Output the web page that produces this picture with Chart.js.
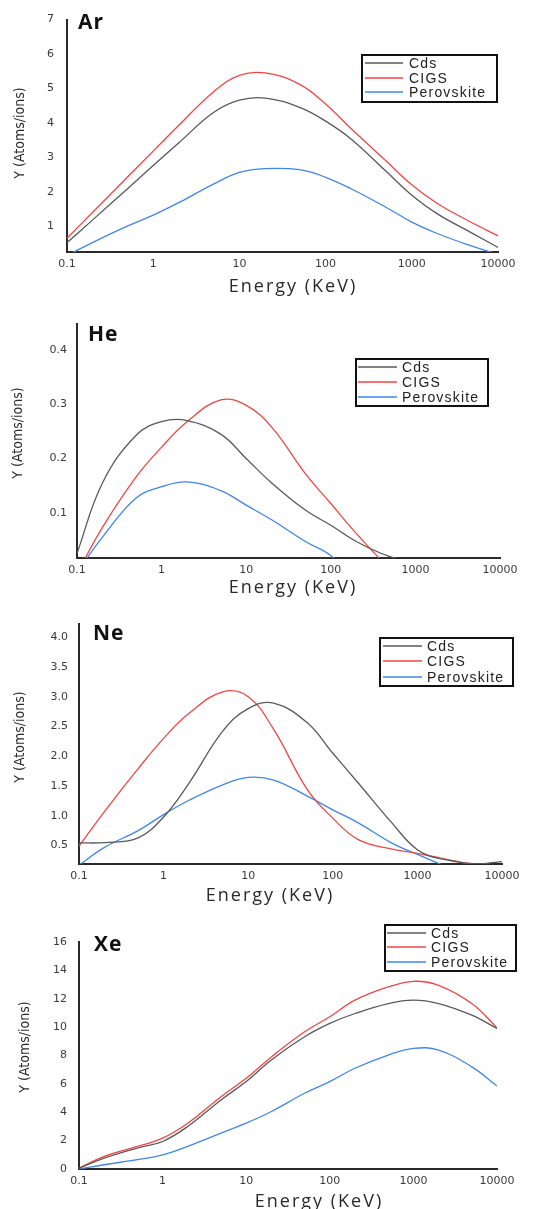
<!DOCTYPE html>
<html><head><meta charset="utf-8">
<script src="https://cdn.jsdelivr.net/npm/chart.js@4.4.0/dist/chart.umd.min.js"></script>
<style>
html,body{margin:0;padding:0;background:#fff;width:534px;height:1209px;overflow:hidden}
canvas{position:absolute;left:0;top:0}
</style>
</head><body>
<canvas id="c0" width="534" height="1209"></canvas>
<canvas id="c1" width="534" height="1209"></canvas>
<canvas id="c2" width="534" height="1209"></canvas>
<canvas id="c3" width="534" height="1209"></canvas>
<script>
// ---------- data ----------
const energies = [0.1,0.2,0.5,1,2,5,10,20,50,100,200,500,1000,2000,5000,10000];
const seriesNames = ['Cds','CIGS','Perovskite'];
const xTickValues = [0.1,1,10,100,1000,10000];
const xTickLabels = ['0.1','1','10','100','1000','10000'];
const xTitle = 'Energy (KeV)';
const yTitle = 'Y (Atoms/ions)';
const panelNames = ['Ar','He','Ne','Xe'];

const arCds   = [0.52,1.19,2.08,2.76,3.43,4.3,4.66,4.72,4.45,4.05,3.52,2.6,1.9,1.35,0.8,0.38];
const arCigs  = [0.65,1.41,2.42,3.18,3.94,4.9,5.38,5.45,5.12,4.55,3.82,2.9,2.2,1.65,1.1,0.72];
const arPerov = [0.15,0.53,1.0,1.32,1.69,2.22,2.56,2.67,2.64,2.42,2.08,1.55,1.12,0.78,0.42,0.18];
const arYTicks = [1,2,3,4,5,6,7];
const arYLabels = ['1','2','3','4','5','6','7'];

const heCds   = [0.025,0.155,0.243,0.268,0.27,0.245,0.2,0.155,0.105,0.077,0.047,0.019,0.01,null,null,null];
const heCigs  = [-0.012,0.073,0.166,0.221,0.268,0.308,0.298,0.258,0.172,0.117,0.062,-0.005,null,null,null,null];
const hePerov = [-0.01,0.055,0.127,0.148,0.157,0.141,0.114,0.087,0.047,0.021,-0.03,null,null,null,null,null];
const heYTicks = [0.1,0.2,0.3,0.4];
const heYLabels = ['0.1','0.2','0.3','0.4'];

const neCds   = [0.545,0.55,0.63,0.98,1.55,2.42,2.8,2.89,2.56,2.05,1.55,0.88,0.43,0.27,0.19,0.23];
const neCigs  = [0.49,1.07,1.79,2.3,2.72,3.08,3.0,2.45,1.44,0.96,0.6,0.44,0.37,0.28,0.17,null];
const nePerov = [0.17,0.47,0.75,1.02,1.26,1.52,1.645,1.6,1.33,1.1,0.88,0.54,0.35,0.17,null,null];
const neYTicks = [0.5,1,1.5,2,2.5,3,3.5,4];
const neYLabels = ['0.5','1.0','1.5','2.0','2.5','3.0','3.5','4.0'];

const xeCds   = [0.05,0.77,1.48,1.94,3.0,4.87,6.16,7.68,9.32,10.26,10.96,11.66,11.9,11.66,10.84,9.9];
const xeCigs  = [0.05,0.89,1.59,2.18,3.23,5.1,6.39,7.9,9.67,10.73,11.9,12.83,13.23,12.95,11.66,9.95];
const xePerov = [0.0,0.3,0.66,1.0,1.6,2.53,3.23,4.05,5.34,6.16,7.1,8.03,8.5,8.38,7.2,5.85];
const xeYTicks = [0,2,4,6,8,10,12,14,16];
const xeYLabels = ['0','2','4','6','8','10','12','14','16'];

// ---------- styles / layout ----------
const seriesColors = ['#5a5a5a','#f04545','#3f86ee'];
const H = 1209, W = 534;
const layouts = [
  {left:67,right:498,top:18,bottom:252,yMin:0.25,yMax:7,yPad:13,
   labelX:78,labelY:23,xTitleX:293,xTitleY:287,yTitleX:20,yTitleY:133,
   legend:{x:362,y:55,w:135,h:47,rows:[63,78,92],l0:365,l1:403,tx:409}},
  {left:77,right:500,top:324,bottom:558,yMin:0.0166,yMax:0.448,yPad:10,
   labelX:88,labelY:335,xTitleX:293,xTitleY:588,yTitleX:18,yTitleY:433,
   legend:{x:356,y:359,w:132,h:47,rows:[367,382,397],l0:358,l1:397,tx:402}},
  {left:79,right:502,top:624,bottom:864,yMin:0.19,yMax:4.22,yPad:11,
   labelX:93,labelY:634,xTitleX:270,xTitleY:896,yTitleX:20,yTitleY:737,
   legend:{x:380,y:638,w:133,h:48,rows:[646,661,677],l0:383,l1:422,tx:427}},
  {left:79,right:497,top:942,bottom:1169,yMin:0,yMax:16,yPad:12,
   labelX:94,labelY:945,xTitleX:319,xTitleY:1202,yTitleX:25,yTitleY:1047,
   legend:{x:385,y:925,w:131,h:46,rows:[933,947,962],l0:387,l1:426,tx:431}}
];
const panelSeries = [[arCds,arCigs,arPerov],[heCds,heCigs,hePerov],[neCds,neCigs,nePerov],[xeCds,xeCigs,xePerov]];
const panelYTicks = [arYTicks,heYTicks,neYTicks,xeYTicks];
const panelYLabels = [arYLabels,heYLabels,neYLabels,xeYLabels];

const tickFont = {family:'"DejaVu Sans", sans-serif', size:11};
const tickColor = '#3a3a3a';
const axisColor = '#2a2a2a';

const decor = {
  id:'decor',
  afterDraw(chart, args, opts){
    const L = opts.layout, ctx = chart.ctx;
    ctx.save();
    ctx.textBaseline = 'middle';
    // panel label
    ctx.fillStyle = '#111';
    ctx.textAlign = 'left';
    ctx.font = 'bold 21px "Open Sans", sans-serif';
    ctx.letterSpacing = '1px';
    ctx.fillText(opts.name, L.labelX, L.labelY);
    // x title
    ctx.fillStyle = '#2a2a2a';
    ctx.textAlign = 'center';
    ctx.font = '18px "Open Sans", sans-serif';
    ctx.letterSpacing = '2px';
    ctx.fillText(xTitle, L.xTitleX, L.xTitleY);
    // y title
    ctx.save();
    ctx.translate(L.yTitleX, L.yTitleY);
    ctx.rotate(-Math.PI/2);
    ctx.font = '14px "Liberation Sans Narrow", "DejaVu Sans Condensed", sans-serif';
    ctx.letterSpacing = '0px';
    ctx.fillText(yTitle, 0, 0);
    ctx.restore();
    // legend
    const g = L.legend;
    ctx.strokeStyle = '#111';
    ctx.lineWidth = 2;
    ctx.strokeRect(g.x, g.y, g.w, g.h);
    ctx.font = '14px "Liberation Sans", Arial, sans-serif';
    ctx.letterSpacing = '1.2px';
    ctx.textAlign = 'left';
    chart.data.datasets.forEach((ds, i) => {
      const ry = g.rows[i];
      ctx.strokeStyle = ds.borderColor;
      ctx.lineWidth = 1.5;
      ctx.beginPath(); ctx.moveTo(g.l0, ry); ctx.lineTo(g.l1, ry); ctx.stroke();
      ctx.fillStyle = '#222';
      ctx.fillText(ds.label, g.tx, ry + 1);
    });
    ctx.letterSpacing = '0px';
    ctx.restore();
  }
};

panelNames.forEach((name, p) => {
  const L = layouts[p];
  const yT = panelYTicks[p], yL = panelYLabels[p];
  const datasets = panelSeries[p].map((vals, i) => ({
    label: seriesNames[i],
    data: energies.map((e, k) => ({x:e, y:vals[k]})),
    borderColor: seriesColors[i],
    borderWidth: 1.3,
    pointRadius: 0,
    fill: false,
    tension: 0.4,
    spanGaps: false
  }));
  new Chart(document.getElementById('c'+p), {
    type: 'line',
    data: {datasets},
    plugins: [decor],
    options: {
      responsive: false,
      animation: false,
      devicePixelRatio: 1,
      layout: {padding: {left:0, top:L.top, right:W-L.right, bottom:0}},
      plugins: {legend:{display:false}, tooltip:{enabled:false}, decor:{layout:L, name}},
      scales: {
        x: {
          type: 'logarithmic', min: 0.1, max: 10000,
          afterBuildTicks: s => { s.ticks = xTickValues.map(v => ({value:v})); },
          afterFit: s => { s.height = H - L.bottom; },
          ticks: {autoSkip:false, maxRotation:0, padding:6, font:tickFont, color:tickColor,
                  callback: (v, i) => xTickLabels[i]},
          grid: {display:false, drawTicks:false},
          border: {display:true, color:axisColor, width:2}
        },
        y: {
          type: 'linear', min: L.yMin, max: L.yMax,
          afterBuildTicks: s => { s.ticks = yT.map(v => ({value:v})); },
          afterFit: s => { s.width = L.left; },
          ticks: {padding:L.yPad, font:tickFont, color:tickColor,
                  callback: (v, i) => yL[i]},
          grid: {display:false, drawTicks:false},
          border: {display:true, color:axisColor, width:2}
        }
      }
    }
  });
});
</script>
</body></html>
